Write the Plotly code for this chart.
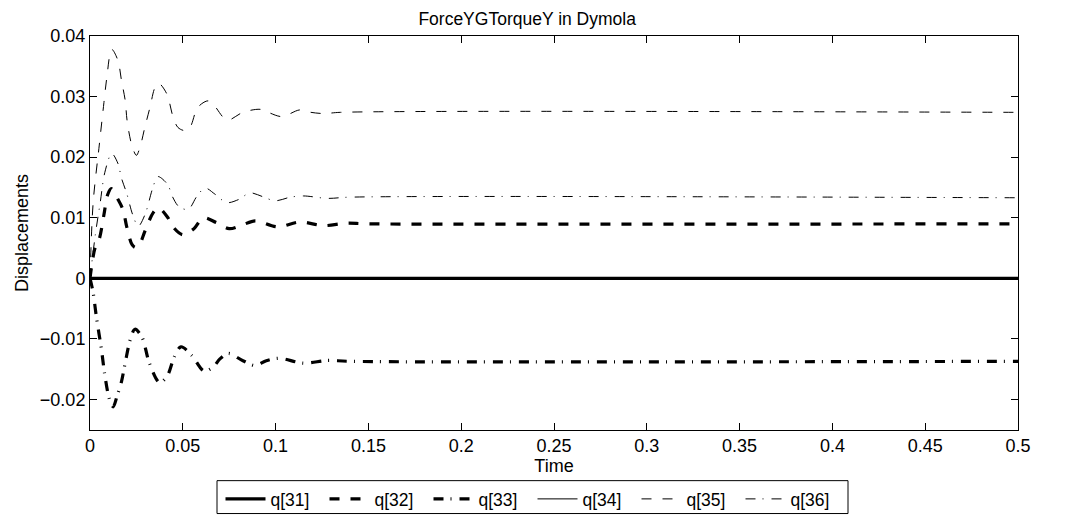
import plotly.graph_objects as go

# ---- data ----
t_flat = [0.0, 0.5]
q31 = [0.0, 0.0]
q34 = [0.0, 0.0]

t32 = [0, 0.0027, 0.005, 0.0075, 0.0095, 0.0115, 0.0151, 0.0178, 0.0198, 0.0226, 0.0245, 0.0270,
       0.0296, 0.034, 0.0370, 0.042, 0.0447, 0.0500, 0.0560, 0.0610, 0.068, 0.0750, 0.0820,
       0.0890, 0.101, 0.113, 0.126, 0.138, 0.15, 0.5]
q32 = [0, 0.0050, 0.0065, 0.0105, 0.0138, 0.0148, 0.0130, 0.0113, 0.0085, 0.0056, 0.0051, 0.0058,
       0.0078, 0.0108, 0.0116, 0.0100, 0.0085, 0.0072, 0.0082, 0.0100, 0.0092, 0.0082, 0.0088,
       0.0095, 0.0085, 0.0093, 0.0087, 0.0091, 0.0090, 0.0090]

t33 = [0, 0.0016, 0.0035, 0.0062, 0.008, 0.0105, 0.0125, 0.0145, 0.017, 0.019, 0.0218, 0.0242,
       0.028, 0.032, 0.0375, 0.0415, 0.0455, 0.049, 0.0548, 0.0615, 0.0665, 0.070, 0.0745,
       0.0824, 0.089, 0.095, 0.102, 0.115, 0.128, 0.14, 0.5]
q33 = [0, -0.0022, -0.0065, -0.0118, -0.0160, -0.0200, -0.0212, -0.0195, -0.0170, -0.0139,
       -0.0100, -0.0084, -0.0097, -0.0140, -0.0172, -0.0162, -0.0129, -0.0113, -0.0127,
       -0.0153, -0.0146, -0.0133, -0.0124, -0.0136, -0.0144, -0.0136, -0.0132, -0.0140,
       -0.01355, -0.0137, -0.0137]

t35 = [0, 0.0017, 0.005, 0.0075, 0.009, 0.0117, 0.015, 0.017, 0.019, 0.020, 0.0225, 0.025, 0.027,
       0.0296, 0.0323, 0.035, 0.037, 0.0413, 0.0448, 0.0474, 0.051, 0.054, 0.058, 0.0636,
       0.067, 0.0717, 0.0744, 0.0824, 0.0916, 0.096, 0.1034, 0.113, 0.119, 0.126, 0.135, 0.5]
q35 = [0, 0.0125, 0.022, 0.029, 0.033, 0.0378, 0.036, 0.0326, 0.0293, 0.026, 0.022, 0.0203,
       0.0217, 0.025, 0.0282, 0.0315, 0.0322, 0.0305, 0.0266, 0.0249, 0.0244, 0.025, 0.0282,
       0.0293, 0.0285, 0.0266, 0.0261, 0.0274, 0.0279, 0.0274, 0.0267, 0.0278, 0.0274,
       0.0272, 0.0274, 0.0274]

t36 = [0, 0.003, 0.0055, 0.008, 0.0117, 0.0150, 0.017, 0.0198, 0.023, 0.026, 0.0296, 0.0338,
       0.0365, 0.0418, 0.0444, 0.048, 0.053, 0.0575, 0.062, 0.0673, 0.0736, 0.080, 0.0862,
       0.0929, 0.0997, 0.108, 0.115, 0.128, 0.14, 0.5]
q36 = [0, 0.0075, 0.0125, 0.0175, 0.0206, 0.0190, 0.0165, 0.0140, 0.0105, 0.0086, 0.0105,
       0.0149, 0.0168, 0.0155, 0.0135, 0.0118, 0.0114, 0.0135, 0.0149, 0.0139, 0.0125, 0.0130,
       0.0141, 0.0135, 0.0128, 0.0134, 0.0136, 0.0132, 0.0134, 0.0133]

x_ticks = [0, 0.05, 0.1, 0.15, 0.2, 0.25, 0.3, 0.35, 0.4, 0.45, 0.5]
y_ticks = [-0.02, -0.01, 0, 0.01, 0.02, 0.03, 0.04]

FONT = "Liberation Sans, Arial, sans-serif"
DASH = "10px,11px"
DASHDOT = "10px,7px,1px,8px"

series = [
    ("q[31]", t_flat, q31, 3.2, "solid", "linear"),
    ("q[32]", t32, q32, 3.2, DASH, "spline"),
    ("q[33]", t33, q33, 3.2, DASHDOT, "spline"),
    ("q[34]", t_flat, q34, 1.0, "solid", "linear"),
    ("q[35]", t35, q35, 1.0, DASH, "spline"),
    ("q[36]", t36, q36, 1.0, DASHDOT, "spline"),
]

fig = go.Figure()
for name, t, v, w, dash, shape in series:
    fig.add_trace(go.Scatter(
        x=t, y=v, name=name, mode="lines",
        line=dict(color="black", width=w, dash=dash, shape=shape, smoothing=0.9),
    ))

axis_common = dict(
    showline=True, linecolor="black", linewidth=1, mirror="ticks",
    ticks="inside", ticklen=7, tickcolor="black", tickwidth=1,
    showgrid=False, zeroline=False,
    tickfont=dict(family=FONT, size=18, color="black"),
)

# legend frame (MATLAB-style box below the axes)
fig.add_shape(type="rect", xref="paper", yref="paper",
              x0=(217 - 90) / 928, x1=(848 - 90) / 928,
              y0=(431 - 515) / 395, y1=(431 - 482) / 395,
              line=dict(color="black", width=1), fillcolor="rgba(0,0,0,0)", layer="above")

fig.update_layout(
    width=1065, height=517,
    margin=dict(l=90, r=47, t=36, b=86),
    paper_bgcolor="white", plot_bgcolor="white",
    font=dict(family=FONT, size=18, color="black"),
    title=dict(text="ForceYGTorqueY in Dymola", x=0.495, xanchor="center",
               y=1 - 19 / 517, yanchor="middle", font=dict(family=FONT, size=17.5)),
    xaxis=dict(range=[0, 0.5], tickvals=x_ticks, ticktext=[str(v) for v in x_ticks],
               title=dict(text="Time", standoff=0, font=dict(size=18)), **axis_common),
    yaxis=dict(range=[-0.025, 0.04], tickvals=y_ticks,
               ticktext=[("\u2212" + str(abs(v))) if v < 0 else str(v) for v in y_ticks],
               title=dict(text="Displacements", standoff=6, font=dict(size=18)), **axis_common),
    legend=dict(orientation="h", xref="container", yref="container",
                x=0.5, xanchor="center", y=36 / 517, yanchor="top",
                borderwidth=0, bgcolor="rgba(0,0,0,0)",
                font=dict(family=FONT, size=17.5), itemwidth=40,
                entrywidth=49, entrywidthmode="pixels",
                tracegroupgap=0),
    showlegend=True,
)

fig.write_html("out.html")
